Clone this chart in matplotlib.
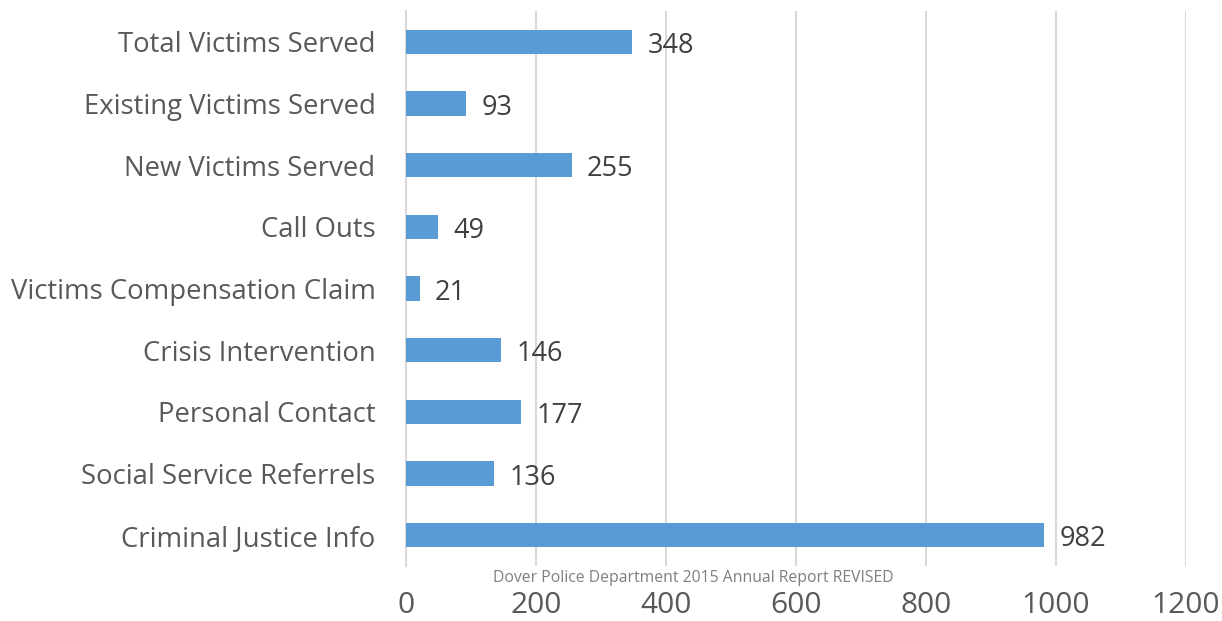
import matplotlib
matplotlib.use("Agg")
import matplotlib.pyplot as plt

categories = [
    "Total Victims Served",
    "Existing Victims Served",
    "New Victims Served",
    "Call Outs",
    "Victims Compensation Claim",
    "Crisis Intervention",
    "Personal Contact",
    "Social Service Referrels",
    "Criminal Justice Info",
]
values = [348, 93, 255, 49, 21, 146, 177, 136, 982]
x_ticks = [0, 200, 400, 600, 800, 1000, 1200]
footer = "Dover Police Department 2015 Annual Report REVISED"

BAR_COLOR = "#5b9bd5"
TEXT_COLOR = "#595959"

plt.rcParams["font.family"] = ["Open Sans", "DejaVu Sans"]

fig = plt.figure(figsize=(12.22, 6.21), dpi=100)
ax = fig.add_axes([0.3322, 0.0886, 0.6383, 0.8937])

positions = list(range(len(categories)))[::-1]
ax.barh(positions, values, height=0.39, color=BAR_COLOR, zorder=3)

for pos, val in zip(positions, values):
    ax.annotate(
        str(val),
        xy=(val, pos),
        xytext=(11, -3),
        textcoords="offset points",
        va="center",
        ha="left",
        fontsize=19.5,
        color="#404040",
    )

ax.set_xlim(0, 1200)
ax.set_ylim(-0.5, len(categories) - 0.5)
ax.set_xticks(x_ticks)
ax.set_xticklabels([str(t) for t in x_ticks], fontsize=21.5, color=TEXT_COLOR)
ax.set_yticks(positions)
ax.set_yticklabels(categories, fontsize=19.8, color=TEXT_COLOR)
ax.tick_params(axis="x", length=0, pad=18)
ax.tick_params(axis="y", length=0, pad=22)

ax.grid(axis="x", color="#d9d9d9", linewidth=1.5, zorder=0)
for side in ["top", "right", "bottom"]:
    ax.spines[side].set_visible(False)
ax.spines["left"].set_color("#d9d9d9")
ax.spines["left"].set_linewidth(1.5)

fig.text(0.567, 0.069, footer, ha="center", va="center", fontsize=11.3, color="#7f7f7f")

fig.savefig("out.png", dpi=100)
plt.close(fig)
